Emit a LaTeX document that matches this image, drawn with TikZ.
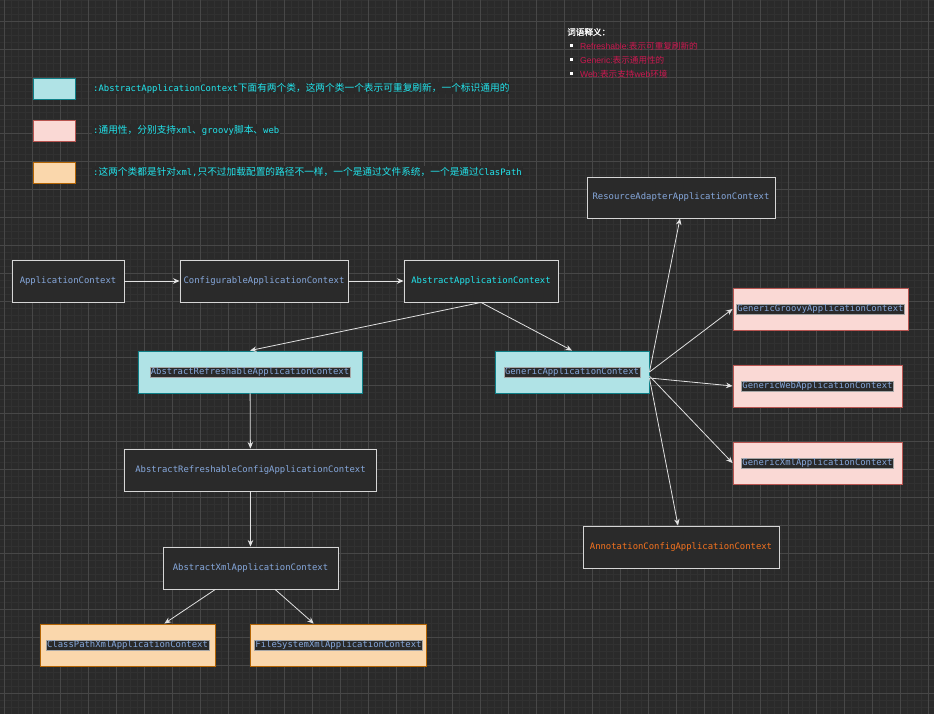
\documentclass[tikz,border=0pt]{standalone}
\usepackage{fontspec}
\setmainfont{Liberation Sans}
\newfontfamily\monof{DejaVu Sans Mono}
\newfontfamily\cjkf{Noto Sans CJK SC}
\newfontfamily\cjkbf[FakeBold=1.2]{Noto Sans CJK SC}
\usetikzlibrary{arrows.meta,calc}
\definecolor{bg}{HTML}{2A2A2A}
\definecolor{gmin}{HTML}{313131}
\definecolor{gmaj}{HTML}{474747}
\definecolor{edgec}{HTML}{E2E2E2}
\definecolor{boxline}{HTML}{D6D6D6}
\definecolor{txtblue}{HTML}{86A8DC}
\definecolor{cyant}{HTML}{22E4EC}
\definecolor{orangt}{HTML}{F5731F}
\definecolor{crim}{HTML}{CC1850}
\definecolor{cyfill}{HTML}{B0E3E6}
\definecolor{cyline}{HTML}{0E8088}
\definecolor{pkfill}{HTML}{FAD9D5}
\definecolor{pkline}{HTML}{B85450}
\definecolor{orfill}{HTML}{FAD7AC}
\definecolor{orline}{HTML}{B46504}
\newcommand\mf{\monof\fontsize{8.9}{10}\selectfont}
\newcommand\cf{\cjkf\fontsize{9.7}{11}\selectfont}
\begin{document}
\begin{tikzpicture}[x=1pt,y=-1pt,
  gminor/.style={draw=gmin,line width=0.4pt},
  gmajor/.style={draw=gmaj,line width=0.8pt},
  base/.style={rectangle,line width=0.9pt,inner sep=0pt,font=\mf,text=txtblue},
  darkbox/.style={base,draw=boxline,fill=bg},
  cybox/.style={base,draw=cyline,fill=cyfill},
  pkbox/.style={base,draw=pkline,fill=pkfill},
  orbox/.style={base,draw=orline,fill=orfill},
  hl/.style={fill=bg,draw=gray!70,line width=0.3pt,inner sep=1pt,font=\mf,text=txtblue},
  legtxt/.style={anchor=west,fill=bg,inner sep=1pt,text=cyant},
  note/.style={anchor=west,inner sep=0pt,text=crim,font=\fontsize{8.6}{10}\selectfont},
  bul/.style={fill=white,minimum size=3pt,inner sep=0pt},
  arr/.style={draw=edgec,line width=0.8pt,-{Stealth[length=6.5pt,width=5.5pt]}}
]
\useasboundingbox (0,0) rectangle (934,714);
\fill[bg] (0,0) rectangle (934,714);
\foreach \i in {0,...,133} \draw[gminor] ({4.3+7*\i},0) -- ++(0,714);
\foreach \i in {0,...,101} \draw[gminor] (0,{0.3+7*\i}) -- ++(934,0);
\foreach \i in {0,...,33} \draw[gmajor] ({4.3+28*\i},0) -- ++(0,714);
\foreach \i in {0,...,25} \draw[gmajor] (0,{21.3+28*\i}) -- ++(934,0);

% notes top right
\node[anchor=west,inner sep=0pt,text=white,font=\cjkbf\fontsize{8.6}{10}\selectfont] (nt) at (567,32) {词语释义：};
\node[bul] (b1) at (571,46) {};
\node[bul] (b2) at (571,60) {};
\node[bul] (b3) at (571,74) {};
\node[note] (n1) at (580,46) {Refreshable:{\cjkf 表示可重复刷新的}};
\node[note] (n2) at (580,60) {Generic:{\cjkf 表示通用性的}};
\node[note] (n3) at (580,74) {Web:{\cjkf 表示支持}web{\cjkf 环境}};

% legend
\node[cybox,minimum width=42pt,minimum height=21pt] (l1) at (54,88.5) {};
\node[pkbox,minimum width=42pt,minimum height=21pt] (l2) at (54,130.5) {};
\node[orbox,minimum width=42pt,minimum height=21pt] (l3) at (54,172.5) {};
\node[legtxt] (t1) at (92,88) {{\mf :AbstractApplicationContext}{\cf 下面有两个类，这两个类一个表示可重复刷新，一个标识通用的}};
\node[legtxt] (t2) at (92,130) {{\mf :}{\cf 通用性，分别支持}{\mf xml}{\cf 、}{\mf groovy}{\cf 脚本、}{\mf web}};
\node[legtxt] (t3) at (92,172) {{\mf :}{\cf 这两个类都是针对}{\mf xml,}{\cf 只不过加载配置的路径不一样，一个是通过文件系统，一个是通过}{\mf ClasPath}};

% main nodes
\node[darkbox,minimum width=112pt,minimum height=42pt] (ac) at (68,281) {ApplicationContext};
\node[darkbox,minimum width=168pt,minimum height=42pt] (cac) at (264,281) {ConfigurableApplicationContext};
\node[darkbox,minimum width=154pt,minimum height=42pt,text=cyant] (aac) at (481,281) {AbstractApplicationContext};
\node[cybox,minimum width=224pt,minimum height=42pt,label={[hl]center:AbstractRefreshableApplicationContext}] (arac) at (250,372) {};
\node[cybox,minimum width=154pt,minimum height=42pt,label={[hl]center:GenericApplicationContext}] (gac) at (572,372) {};
\node[darkbox,minimum width=252pt,minimum height=42pt] (arcac) at (250.5,470) {AbstractRefreshableConfigApplicationContext};
\node[darkbox,minimum width=175pt,minimum height=42pt] (axml) at (250.5,568) {AbstractXmlApplicationContext};
\node[orbox,minimum width=175pt,minimum height=42pt,label={[hl]center:ClassPathXmlApplicationContext}] (cp) at (127.5,645) {};
\node[orbox,minimum width=176pt,minimum height=42pt,label={[hl]center:FileSystemXmlApplicationContext}] (fs) at (338.5,645) {};
\node[darkbox,minimum width=188pt,minimum height=41pt] (rac) at (681,197.5) {ResourceAdapterApplicationContext};
\node[pkbox,minimum width=175pt,minimum height=42pt,label={[hl]center:GenericGroovyApplicationContext}] (ggac) at (820.5,309) {};
\node[pkbox,minimum width=169pt,minimum height=42pt,label={[hl]center:GenericWebApplicationContext}] (gwac) at (817.5,386) {};
\node[pkbox,minimum width=169pt,minimum height=42pt,label={[hl]center:GenericXmlApplicationContext}] (gxac) at (817.5,463) {};
\node[darkbox,minimum width=196pt,minimum height=42pt,text=orangt] (anc) at (681,547) {AnnotationConfigApplicationContext};

% edges
\draw[arr] (ac) -- (cac);
\draw[arr] (cac) -- (aac);
\draw[arr] (aac.south) -- (arac.north);
\draw[arr] (aac.south) -- (gac.north);
\draw[arr] (arac) -- (arcac);
\draw[arr] (arcac) -- (axml);
\draw[arr] ($(axml.south west)!0.3!(axml.south east)$) -- ($(cp.north west)!0.71!(cp.north east)$);
\draw[arr] ($(axml.south west)!0.64!(axml.south east)$) -- ($(fs.north west)!0.36!(fs.north east)$);
\draw[arr] (gac.east) -- ($(rac.south)+(-1,0)$);
\draw[arr] (gac.east) -- (ggac.west);
\draw[arr] ($(gac.east)+(0,6)$) -- (gwac.west);
\draw[arr] ($(gac.east)+(0,4)$) -- (gxac.west);
\draw[arr] ($(gac.east)+(0,6)$) -- ($(anc.north)+(-3,0)$);
\end{tikzpicture}
\end{document}
